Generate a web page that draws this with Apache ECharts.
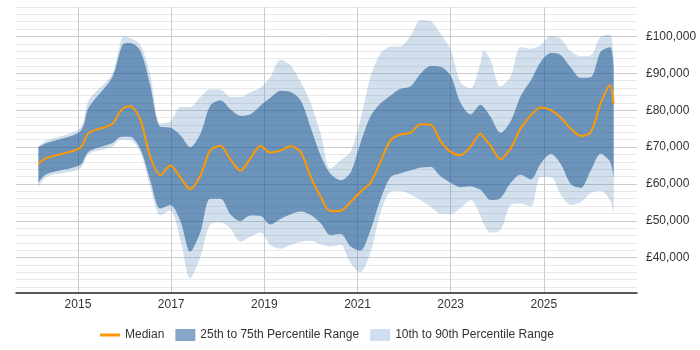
<!DOCTYPE html>
<html>
<head>
<meta charset="utf-8">
<title>Salary percentiles</title>
<script src="https://cdn.jsdelivr.net/npm/echarts@6/dist/echarts.min.js"></script>
<style>
  html, body { margin: 0; padding: 0; background: #fff; }
  #chart { width: 700px; height: 350px; }
</style>
</head>
<body>
<div id="chart"></div>
<script>
// sample points, decimal years
const years = [2014.15, 2014.32, 2015.05, 2015.23, 2015.73, 2015.89, 2015.98, 2016.12, 2016.34, 2016.55,
  2016.77, 2016.98, 2017.20, 2017.41, 2017.63, 2017.84, 2018.06, 2018.27, 2018.49, 2018.70,
  2018.92, 2019.13, 2019.35, 2019.56, 2019.78, 2019.99, 2020.21, 2020.42, 2020.64, 2020.85,
  2021.06, 2021.28, 2021.49, 2021.71, 2021.92, 2022.14, 2022.35, 2022.57, 2022.78, 2023.00,
  2023.21, 2023.43, 2023.64, 2023.71, 2023.86, 2024.07, 2024.29, 2024.50, 2024.72, 2024.93,
  2025.15, 2025.36, 2025.58, 2025.79, 2026.01, 2026.22, 2026.42, 2026.50]

const p90 = [70200, 71700, 75200, 82700, 89700, 97100, 100000, 99600, 97700, 89700,
  76400, 76900, 80900, 80900, 83600, 85700, 85600, 83600, 83600, 84900,
  86100, 89000, 93700, 92200, 87800, 82100, 73700, 64200, 66400, 68700,
  77300, 89000, 95300, 97200, 97300, 100200, 104500, 104200, 100800, 96500,
  87600, 86000, 92800, 96200, 93500, 86400, 89200, 97100, 96700, 97600,
  100100, 99400, 95900, 94600, 94900, 100000, 100500, 94000]

const p75 = [70000, 71100, 74300, 80700, 88800, 95300, 98000, 98200, 96100, 86900,
  75500, 75300, 73200, 70000, 73700, 81300, 82700, 80300, 78500, 78900,
  81300, 83400, 85300, 85000, 82700, 75600, 67800, 62800, 61000, 63100,
  71000, 78400, 81800, 84000, 85800, 86500, 89900, 92000, 91800, 89400,
  82100, 78900, 81500, 80900, 78200, 73900, 77100, 83800, 88100, 93100,
  95500, 95000, 91600, 88800, 89000, 95900, 97100, 91700]

const median = [65400, 67000, 69800, 73800, 76200, 79300, 80600, 81100, 77400, 67500,
  62400, 65000, 61700, 58600, 62300, 69100, 70300, 66700, 63600, 66900,
  70300, 68500, 69100, 70200, 68700, 62200, 56500, 52600, 52700, 55100,
  57800, 60400, 65900, 71900, 73400, 73900, 76200, 76100, 71700, 68700,
  67800, 70200, 73700, 72600, 70300, 66700, 69700, 75000, 78600, 80700,
  80000, 78000, 75000, 73000, 74100, 81900, 86800, 81800]

const p25 = [60300, 62600, 65100, 68700, 71000, 72600, 72800, 72800, 69500, 61000,
  53300, 54300, 49800, 41600, 47000, 56000, 56000, 51800, 49900, 51400,
  51300, 49000, 50500, 51700, 52500, 51600, 49300, 46100, 46400, 43000,
  41900, 47500, 55600, 61800, 62800, 63700, 64400, 64600, 62100, 60300,
  59100, 59300, 58400, 57400, 55600, 56100, 60300, 62500, 61200, 65500,
  68100, 65400, 59900, 58900, 63700, 68200, 66000, 61500]

const p10 = [59000, 61900, 64200, 68100, 70000, 71900, 72000, 71900, 68600, 59200,
  51500, 52800, 44800, 34400, 40300, 49000, 49500, 47900, 44300, 45700,
  46800, 43400, 42400, 43400, 44300, 44600, 43600, 43000, 43400, 38500,
  36000, 41500, 52000, 57900, 58100, 57100, 55600, 53800, 51900, 51800,
  53400, 55600, 51300, 49100, 46800, 47500, 54300, 54700, 53800, 61900,
  61900, 57100, 54300, 55000, 57600, 58100, 55600, 52000]

const xTicks = [2015, 2017, 2019, 2021, 2023, 2025]
const yTicks = [40000, 50000, 60000, 70000, 80000, 90000, 100000]
const yMinorLines = [32000, 34000, 36000, 38000, 40000, 42000, 44000, 46000, 48000, 50000,
  52000, 54000, 56000, 58000, 60000, 62000, 64000, 66000, 68000, 70000,
  72000, 74000, 76000, 78000, 80000, 82000, 84000, 86000, 88000, 90000,
  92000, 94000, 96000, 98000, 100000, 102000, 104000, 106000, 108000]

const xStart = 2013.67
const xEnd = 2027.0

const font = '"Liberation Sans", Arial, sans-serif'
const lightBand = 'rgba(70,130,180,0.25)'
const darkBand = 'rgba(30,90,150,0.655)'
const range1090 = '10th to 90th Percentile Range'
const range2575 = '25th to 75th Percentile Range'

// decimal year -> timestamp (UTC)
const toTime = yr => {
  const y = Math.floor(yr)
  const start = Date.UTC(y, 0, 1)
  return start + (yr - y) * (Date.UTC(y + 1, 0, 1) - start)
}
const money = v => '£' + String(v).replace(/\B(?=(\d{3})+(?!\d))/g, ',')
const points = vals => years.map((y, i) => [toTime(y), vals[i]])
const gap = (hi, lo) => years.map((y, i) => [toTime(y), hi[i] - lo[i]])

// one slice of the stacked band
const band = (name, data, color) => ({
  name: name,
  type: 'line',
  stack: 'range',
  data: data,
  symbol: 'none',
  smooth: 0.3,
  silent: true,
  z: 1,
  itemStyle: { color: color || 'rgba(0,0,0,0)' },
  lineStyle: { width: 0, opacity: 0 },
  areaStyle: color ? { color: color, opacity: 1 } : null
})

const chart = echarts.init(document.getElementById('chart'))

chart.setOption({
  animation: false,
  useUTC: true,
  textStyle: { fontFamily: font },
  grid: { left: 16, right: 63, top: 7, bottom: 57, containLabel: false, outerBoundsMode: 'none' },
  legend: {
    top: 324,
    left: 95,
    itemWidth: 20,
    itemHeight: 12,
    itemGap: 11,
    textStyle: { fontSize: 12, color: '#333', fontFamily: font },
    data: [
      { name: 'Median', icon: 'path://M0 0H20V3H0Z', itemStyle: { color: '#ff9900' } },
      { name: range2575, icon: 'rect', itemStyle: { color: '#87a5c7' } },
      { name: range1090, icon: 'rect', itemStyle: { color: '#d0dff0' } }
    ]
  },
  xAxis: [
    // data axis (time), hidden
    { type: 'time', show: false, min: toTime(xStart), max: toTime(xEnd) },
    // visible year axis over the same span
    {
      type: 'value',
      position: 'bottom',
      min: xStart,
      max: xEnd,
      axisLine: { show: true, onZero: false, lineStyle: { color: '#222', width: 1.5 } },
      axisTick: { show: false, customValues: xTicks },
      axisLabel: { customValues: xTicks, formatter: v => String(v), color: '#333', fontSize: 12, margin: 6 },
      splitLine: { show: true, customValues: xTicks, lineStyle: { color: '#cccccc' } }
    }
  ],
  yAxis: [
    {
      type: 'value',
      position: 'right',
      min: 30400,
      max: 108000,
      z: 1,
      axisLine: { show: false },
      axisTick: { show: false, customValues: yTicks },
      axisLabel: { customValues: yTicks, formatter: v => money(v), color: '#333', fontSize: 12, margin: 9 },
      splitLine: { show: true, customValues: yTicks, lineStyle: { color: '#cccccc' } }
    },
    {
      type: 'value',
      position: 'right',
      min: 30400,
      max: 108000,
      z: 0,
      axisLine: { show: false },
      axisTick: { show: false, customValues: yMinorLines },
      axisLabel: { show: false },
      splitLine: { show: true, customValues: yMinorLines, lineStyle: { color: '#e8e8e8' } }
    }
  ],
  series: [
    band('p10', points(p10), null),
    band(range1090, gap(p25, p10), lightBand),
    band(range2575, gap(p75, p25), darkBand),
    band(range1090, gap(p90, p75), lightBand),
    {
      name: 'Median',
      type: 'line',
      data: points(median),
      symbol: 'none',
      smooth: 0.3,
      z: 3,
      itemStyle: { color: '#ff9900' },
      lineStyle: { color: '#ff9900', width: 2 }
    }
  ]
})

window.addEventListener('resize', () => chart.resize())
</script>
</body>
</html>
